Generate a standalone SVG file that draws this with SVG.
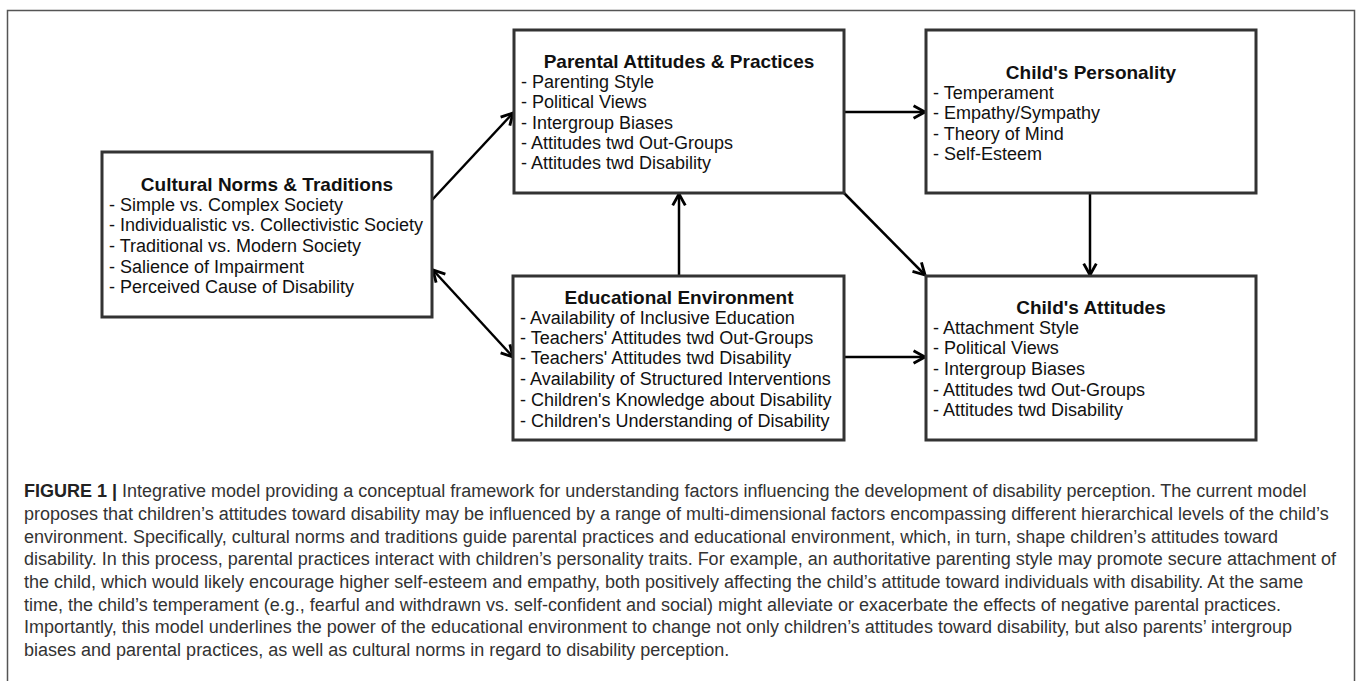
<svg xmlns="http://www.w3.org/2000/svg" width="1358" height="681" viewBox="0 0 1358 681">
<defs>
<style>
.box{fill:#fff;stroke:#333;stroke-width:3}
.t{font-family:"Liberation Sans",Arial,sans-serif;font-size:19px;font-weight:bold;fill:#111;text-anchor:middle}
.i{font-family:"Liberation Sans",Arial,sans-serif;font-size:18px;fill:#111}
.c{stroke:#000;stroke-width:2.5;fill:none}
.cap{font-family:"Liberation Sans",Arial,sans-serif;font-size:18px;fill:#333}
</style>
<marker id="ah" markerUnits="userSpaceOnUse" markerWidth="16" markerHeight="16" viewBox="0 0 14 14" refX="12" refY="7" orient="auto-start-reverse">
<path d="M2,1.5 L12,7 L2,12.5" fill="none" stroke="#000" stroke-width="2.5"/>
</marker>
</defs>
<rect x="0" y="0" width="1358" height="681" fill="#fff"/>
<rect id="frame" x="7.5" y="10.5" width="1347" height="680" fill="none" stroke="#555" stroke-width="1.5"/>

<g id="connectors">
<line class="c" x1="432" y1="200" x2="513" y2="113" marker-end="url(#ah)"/>
<line class="c" x1="433" y1="270" x2="513" y2="357" marker-start="url(#ah)" marker-end="url(#ah)"/>
<line class="c" x1="679" y1="276" x2="679" y2="194" marker-end="url(#ah)"/>
<line class="c" x1="844" y1="112" x2="925" y2="112" marker-end="url(#ah)"/>
<line class="c" x1="844" y1="193" x2="925" y2="275" marker-end="url(#ah)"/>
<line class="c" x1="1090" y1="193" x2="1090" y2="275" marker-end="url(#ah)"/>
<line class="c" x1="844" y1="357" x2="925" y2="357" marker-end="url(#ah)"/>
</g>

<g id="cultural">
<rect class="box" x="102" y="152" width="330" height="165"/>
<text class="t" x="267" y="191">Cultural Norms &amp; Traditions</text>
<text class="i" x="109" y="211">- Simple vs. Complex Society</text>
<text class="i" x="109" y="231">- Individualistic vs. Collectivistic Society</text>
<text class="i" x="109" y="252">- Traditional vs. Modern Society</text>
<text class="i" x="109" y="273">- Salience of Impairment</text>
<text class="i" x="109" y="293">- Perceived Cause of Disability</text>
</g>

<g id="parental">
<rect class="box" x="514" y="30" width="330" height="163"/>
<text class="t" x="679" y="68">Parental Attitudes &amp; Practices</text>
<text class="i" x="521" y="88">- Parenting Style</text>
<text class="i" x="521" y="108">- Political Views</text>
<text class="i" x="521" y="129">- Intergroup Biases</text>
<text class="i" x="521" y="149">- Attitudes twd Out-Groups</text>
<text class="i" x="521" y="169">- Attitudes twd Disability</text>
</g>

<g id="personality">
<rect class="box" x="926" y="30" width="330" height="163"/>
<text class="t" x="1091" y="79">Child's Personality</text>
<text class="i" x="933" y="99">- Temperament</text>
<text class="i" x="933" y="119">- Empathy/Sympathy</text>
<text class="i" x="933" y="140">- Theory of Mind</text>
<text class="i" x="933" y="160">- Self-Esteem</text>
</g>

<g id="educational">
<rect class="box" x="513" y="276" width="331" height="164"/>
<text class="t" x="679" y="304">Educational Environment</text>
<text class="i" x="520" y="324">- Availability of Inclusive Education</text>
<text class="i" x="520" y="344">- Teachers' Attitudes twd Out-Groups</text>
<text class="i" x="520" y="364">- Teachers' Attitudes twd Disability</text>
<text class="i" x="520" y="385">- Availability of Structured Interventions</text>
<text class="i" x="520" y="406">- Children's Knowledge about Disability</text>
<text class="i" x="520" y="427">- Children's Understanding of Disability</text>
</g>

<g id="attitudes">
<rect class="box" x="926" y="276" width="330" height="164"/>
<text class="t" x="1091" y="314">Child's Attitudes</text>
<text class="i" x="933" y="334">- Attachment Style</text>
<text class="i" x="933" y="354">- Political Views</text>
<text class="i" x="933" y="375">- Intergroup Biases</text>
<text class="i" x="933" y="396">- Attitudes twd Out-Groups</text>
<text class="i" x="933" y="416">- Attitudes twd Disability</text>
</g>

<g id="caption">
<text class="cap" x="24" y="497"><tspan font-weight="bold" fill="#222">FIGURE 1 |</tspan> Integrative model providing a conceptual framework for understanding factors influencing the development of disability perception. The current model</text>
<text class="cap" x="24" y="520">proposes that children’s attitudes toward disability may be influenced by a range of multi-dimensional factors encompassing different hierarchical levels of the child’s</text>
<text class="cap" x="24" y="543">environment. Specifically, cultural norms and traditions guide parental practices and educational environment, which, in turn, shape children’s attitudes toward</text>
<text class="cap" x="24" y="565">disability. In this process, parental practices interact with children’s personality traits. For example, an authoritative parenting style may promote secure attachment of</text>
<text class="cap" x="24" y="588">the child, which would likely encourage higher self-esteem and empathy, both positively affecting the child’s attitude toward individuals with disability. At the same</text>
<text class="cap" x="24" y="611">time, the child’s temperament (e.g., fearful and withdrawn vs. self-confident and social) might alleviate or exacerbate the effects of negative parental practices.</text>
<text class="cap" x="24" y="633">Importantly, this model underlines the power of the educational environment to change not only children’s attitudes toward disability, but also parents’ intergroup</text>
<text class="cap" x="24" y="656">biases and parental practices, as well as cultural norms in regard to disability perception.</text>
</g>
</svg>
